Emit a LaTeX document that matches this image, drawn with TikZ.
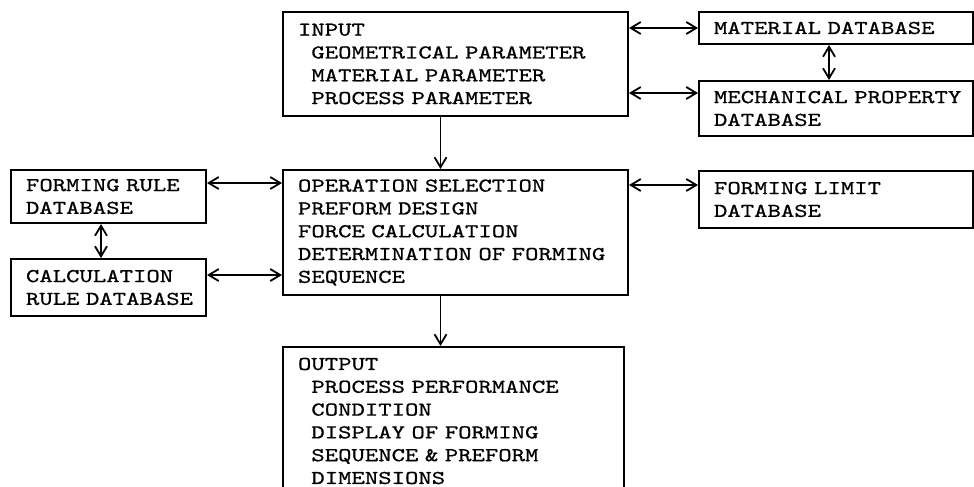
\documentclass[tikz,border=0pt]{standalone}
\usepackage{fontspec}
\setmonofont[FakeStretch=1.3,FakeBold=0.8]{lmmono10-regular.otf}
\usetikzlibrary{arrows.meta}
\newcommand\ind{\hphantom{X}}
\tikzset{
  dbbox/.style={draw, line width=1pt, anchor=north west, align=left,
    inner xsep=7.5pt, inner ysep=0pt,
    font=\ttfamily\fontsize{9.8}{11.4}\selectfont},
  link/.style={line width=0.9pt,
    {Straight Barb[length=5pt,width=6pt]}-{Straight Barb[length=5pt,width=6pt]}},
  feed/.style={line width=0.9pt, -{Straight Barb[length=5pt,width=6pt]}}
}

\begin{document}
\begin{tikzpicture}[x=0.5pt,y=-0.5pt]
\useasboundingbox (0,0) rectangle (974,487);
\node[dbbox, text width=157.5pt, minimum height=52pt] (input) at (282,11)
  {INPUT\\ \ind GEOMETRICAL PARAMETER\\ \ind MATERIAL PARAMETER\\ \ind PROCESS PARAMETER};
\node[dbbox, text width=157.5pt, minimum height=62.5pt] (main) at (282,169)
  {OPERATION SELECTION\\ PREFORM DESIGN\\ FORCE CALCULATION\\
   DETERMINATION~OF~FORMING\\ SEQUENCE};
\node[dbbox, text width=155.5pt, minimum height=74pt] (output) at (282,346)
  {OUTPUT\\ \ind PROCESS PERFORMANCE\\ \ind CONDITION\\ \ind DISPLAY OF FORMING\\
   \ind SEQUENCE \& PREFORM\\ \ind DIMENSIONS};
\node[dbbox, text width=122pt, minimum height=16pt] (material) at (698,11)
  {MATERIAL DATABASE};
\node[dbbox, text width=122pt, minimum height=27.5pt] (mech) at (698,80)
  {MECHANICAL~PROPERTY\\ DATABASE};
\node[dbbox, text width=122pt, minimum height=28.5pt] (flimit) at (698,170)
  {FORMING LIMIT\\ DATABASE};
\node[dbbox, text width=82.5pt, minimum height=26.5pt] (frule) at (10,169)
  {FORMING RULE\\ DATABASE};
\node[dbbox, text width=82.5pt, minimum height=28.5pt] (crule) at (10,258)
  {CALCULATION\\ RULE~DATABASE};

\coordinate (mechin) at ([yshift=-6.5pt]mech.north west);
\coordinate (limitin) at ([yshift=-7.5pt]flimit.north west);
\coordinate (rulein) at ([yshift=-7pt]frule.north east);
\coordinate (calcin) at ([yshift=-8.5pt]crule.north east);
\coordinate (spine) at ([xshift=-7.5pt]input.south);

\draw[link] (input.east |- material.west) -- (material.west);
\draw[link] (input.east |- mechin) -- (mechin);
\draw[link] ([xshift=-3.5pt]material.south) -- ([xshift=-3.5pt]mech.north);
\draw[feed] (spine) -- (spine |- main.north);
\draw[feed] (spine |- main.south) -- (spine |- output.north);
\draw[link] (main.east |- limitin) -- (limitin);
\draw[link] (rulein) -- (main.west |- rulein);
\draw[link] (calcin) -- (main.west |- calcin);
\draw[link] ([xshift=-3.75pt]frule.south) -- ([xshift=-3.75pt]crule.north);
\end{tikzpicture}
\end{document}
